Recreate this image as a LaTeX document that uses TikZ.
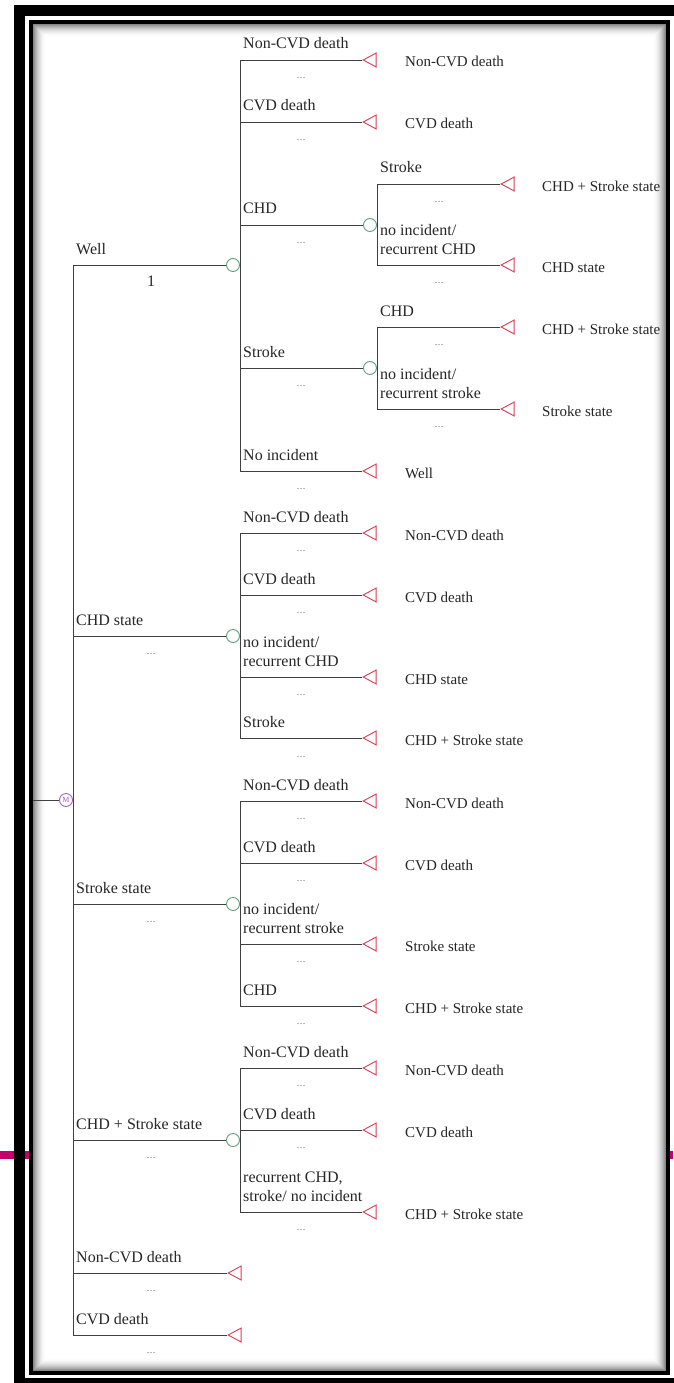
\documentclass[tikz,border=0pt]{standalone}
\usepackage{fontspec}
\setmainfont{Liberation Serif}
\usetikzlibrary{shapes.geometric}

\definecolor{chancegreen}{RGB}{95,160,125}
\definecolor{termred}{RGB}{220,60,80}
\definecolor{markovpurple}{RGB}{165,95,200}
\definecolor{edgemagenta}{RGB}{195,0,110}

\begin{document}
\begin{tikzpicture}[
    x=1pt, y=-1pt,
    branch/.style={draw=black!75, line width=0.9pt},
    chance/.style={circle, draw=chancegreen, fill=white, line width=0.9pt,
      inner sep=0pt, minimum size=13pt},
    term/.style={isosceles triangle, shape border rotate=180,
      isosceles triangle stretches, draw=termred, fill=white, line width=0.9pt,
      inner sep=0pt, minimum width=14pt, minimum height=13pt, anchor=apex},
    markov/.style={circle, draw=markovpurple, fill=white, line width=0.9pt,
      inner sep=0pt, minimum size=13pt, text=markovpurple,
      font=\fontsize{8}{8}\selectfont},
    lbl/.style={anchor=base west, inner sep=0pt, align=left,
      font=\fontsize{16}{19}\selectfont, text=black!85},
    outlbl/.style={anchor=base west, inner sep=0pt,
      font=\fontsize{15}{18}\selectfont, text=black!85},
    dotsl/.style={inner sep=0pt, font=\fontsize{9}{10}\selectfont, text=black!70}
  ]
  \useasboundingbox (0,0) rectangle (673,1383);

  % Window frame with the pink strip behind it
  \fill[edgemagenta] (0,1151) rectangle (673,1159);
  \draw[line width=11pt] (19.5,10.5) rectangle (690,1383.5);
  \fill[white] (31,22) rectangle (667.5,1372.5);
  \foreach \i in {1,...,13} {
    \pgfmathsetmacro{\shade}{55*(1-\i/14)^2}
    \draw[black!\shade, line width=1pt]
      (32.5+\i,23.5+\i) rectangle (666-\i,1371-\i);
  }
  \draw[line width=4pt] (31,22) rectangle (667.5,1372.5);

  % Markov node and its states
  \coordinate (rootin) at (33,800);
  \node[markov] (markov) at (66,800) {M};
  \coordinate (m-top) at (73,265);
  \coordinate (m-bot) at (73,1335);
  \draw[branch] (rootin) -- (markov.west);
  \draw[branch] (m-top) -- (m-bot);

  \node[chance] (well) at (233,265) {};
  \node[chance] (chd) at (233,636) {};
  \node[chance] (stroke) at (233,904) {};
  \node[chance] (both) at (233,1140) {};
  \node[term] (nd) at (227,1273) {};
  \node[term] (cd) at (227,1335) {};
  \coordinate (m-chd) at (73,636);
  \coordinate (m-stroke) at (73,904);
  \coordinate (m-both) at (73,1140);
  \coordinate (m-nd) at (73,1273);
  \draw[branch] (m-top) -- (well.west);
  \draw[branch] (m-chd) -- (chd.west);
  \draw[branch] (m-stroke) -- (stroke.west);
  \draw[branch] (m-both) -- (both.west);
  \draw[branch] (m-nd) -- (nd.apex);
  \draw[branch] (m-bot) -- (cd.apex);

  \node[lbl] (well-l) at (76,254) {Well};
  \node[lbl, anchor=center] (well-p) at (151,281) {1};
  \node[lbl] (chd-l) at (76,625) {CHD state};
  \node[dotsl] (chd-d) at (151,654.5) {\ldots};
  \node[lbl] (stroke-l) at (76,893) {Stroke state};
  \node[dotsl] (stroke-d) at (151,922.5) {\ldots};
  \node[lbl] (both-l) at (76,1129) {CHD + Stroke state};
  \node[dotsl] (both-d) at (151,1158.5) {\ldots};
  \node[lbl] (nd-l) at (76,1262) {Non-CVD death};
  \node[dotsl] (nd-d) at (151,1291.5) {\ldots};
  \node[lbl] (cd-l) at (76,1324) {CVD death};
  \node[dotsl] (cd-d) at (151,1353.5) {\ldots};

  % Well
  \coordinate (w-top) at (240,60);
  \coordinate (w-bot) at (240,471);
  \draw[branch] (w-top) -- (w-bot);
  \coordinate (w-cd-s) at (240,122);
  \coordinate (w-chd-s) at (240,225);
  \coordinate (w-str-s) at (240,368);
  \node[term] (w-nd) at (362,60) {};
  \node[term] (w-cd) at (362,122) {};
  \node[chance] (w-chd) at (370,225) {};
  \node[chance] (w-str) at (370,368) {};
  \node[term] (w-no) at (362,471) {};
  \draw[branch] (w-top) -- (w-nd.apex);
  \draw[branch] (w-cd-s) -- (w-cd.apex);
  \draw[branch] (w-chd-s) -- (w-chd.west);
  \draw[branch] (w-str-s) -- (w-str.west);
  \draw[branch] (w-bot) -- (w-no.apex);

  \node[lbl] (w-nd-l) at (243,49) {Non-CVD death};
  \node[dotsl] (w-nd-d) at (301,78.5) {\ldots};
  \node[outlbl] (w-nd-o) at (405,67) {Non-CVD death};
  \node[lbl] (w-cd-l) at (243,111) {CVD death};
  \node[dotsl] (w-cd-d) at (301,140.5) {\ldots};
  \node[outlbl] (w-cd-o) at (405,129) {CVD death};
  \node[lbl] (w-chd-l) at (243,214) {CHD};
  \node[dotsl] (w-chd-d) at (301,243.5) {\ldots};
  \node[lbl] (w-str-l) at (243,357) {Stroke};
  \node[dotsl] (w-str-d) at (301,386.5) {\ldots};
  \node[lbl] (w-no-l) at (243,460) {No incident};
  \node[dotsl] (w-no-d) at (301,489.5) {\ldots};
  \node[outlbl] (w-no-o) at (405,478) {Well};

  % Well -> CHD
  \coordinate (wc-top) at (377,184);
  \coordinate (wc-bot) at (377,265);
  \draw[branch] (wc-top) -- (wc-bot);
  \node[term] (wc-str) at (500,184) {};
  \node[term] (wc-no) at (500,265) {};
  \draw[branch] (wc-top) -- (wc-str.apex);
  \draw[branch] (wc-bot) -- (wc-no.apex);
  \node[lbl] (wc-str-l) at (380,173) {Stroke};
  \node[dotsl] (wc-str-d) at (439,202.5) {\ldots};
  \node[outlbl] (wc-str-o) at (542,191) {CHD + Stroke state};
  \node[lbl] (wc-no-l) at (380,254) {no incident/\\recurrent CHD};
  \node[dotsl] (wc-no-d) at (439,283.5) {\ldots};
  \node[outlbl] (wc-no-o) at (542,272) {CHD state};

  % Well -> Stroke
  \coordinate (ws-top) at (377,327);
  \coordinate (ws-bot) at (377,409);
  \draw[branch] (ws-top) -- (ws-bot);
  \node[term] (ws-chd) at (500,327) {};
  \node[term] (ws-no) at (500,409) {};
  \draw[branch] (ws-top) -- (ws-chd.apex);
  \draw[branch] (ws-bot) -- (ws-no.apex);
  \node[lbl] (ws-chd-l) at (380,316) {CHD};
  \node[dotsl] (ws-chd-d) at (439,345.5) {\ldots};
  \node[outlbl] (ws-chd-o) at (542,334) {CHD + Stroke state};
  \node[lbl] (ws-no-l) at (380,398) {no incident/\\recurrent stroke};
  \node[dotsl] (ws-no-d) at (439,427.5) {\ldots};
  \node[outlbl] (ws-no-o) at (542,416) {Stroke state};

  % CHD state
  \coordinate (c-top) at (240,533);
  \coordinate (c-cd-s) at (240,595);
  \coordinate (c-no-s) at (240,677);
  \coordinate (c-bot) at (240,738);
  \draw[branch] (c-top) -- (c-bot);
  \node[term] (c-nd) at (362,533) {};
  \node[term] (c-cd) at (362,595) {};
  \node[term] (c-no) at (362,677) {};
  \node[term] (c-str) at (362,738) {};
  \draw[branch] (c-top) -- (c-nd.apex);
  \draw[branch] (c-cd-s) -- (c-cd.apex);
  \draw[branch] (c-no-s) -- (c-no.apex);
  \draw[branch] (c-bot) -- (c-str.apex);
  \node[lbl] (c-nd-l) at (243,522) {Non-CVD death};
  \node[dotsl] (c-nd-d) at (301,551.5) {\ldots};
  \node[outlbl] (c-nd-o) at (405,540) {Non-CVD death};
  \node[lbl] (c-cd-l) at (243,584) {CVD death};
  \node[dotsl] (c-cd-d) at (301,613.5) {\ldots};
  \node[outlbl] (c-cd-o) at (405,602) {CVD death};
  \node[lbl] (c-no-l) at (243,666) {no incident/\\recurrent CHD};
  \node[dotsl] (c-no-d) at (301,695.5) {\ldots};
  \node[outlbl] (c-no-o) at (405,684) {CHD state};
  \node[lbl] (c-str-l) at (243,727) {Stroke};
  \node[dotsl] (c-str-d) at (301,757.5) {\ldots};
  \node[outlbl] (c-str-o) at (405,745) {CHD + Stroke state};

  % Stroke state
  \coordinate (s-top) at (240,801);
  \coordinate (s-cd-s) at (240,863);
  \coordinate (s-no-s) at (240,944);
  \coordinate (s-bot) at (240,1006);
  \draw[branch] (s-top) -- (s-bot);
  \node[term] (s-nd) at (362,801) {};
  \node[term] (s-cd) at (362,863) {};
  \node[term] (s-no) at (362,944) {};
  \node[term] (s-chd) at (362,1006) {};
  \draw[branch] (s-top) -- (s-nd.apex);
  \draw[branch] (s-cd-s) -- (s-cd.apex);
  \draw[branch] (s-no-s) -- (s-no.apex);
  \draw[branch] (s-bot) -- (s-chd.apex);
  \node[lbl] (s-nd-l) at (243,790) {Non-CVD death};
  \node[dotsl] (s-nd-d) at (301,819.5) {\ldots};
  \node[outlbl] (s-nd-o) at (405,808) {Non-CVD death};
  \node[lbl] (s-cd-l) at (243,852) {CVD death};
  \node[dotsl] (s-cd-d) at (301,881.5) {\ldots};
  \node[outlbl] (s-cd-o) at (405,870) {CVD death};
  \node[lbl] (s-no-l) at (243,933) {no incident/\\recurrent stroke};
  \node[dotsl] (s-no-d) at (301,962.5) {\ldots};
  \node[outlbl] (s-no-o) at (405,951) {Stroke state};
  \node[lbl] (s-chd-l) at (243,995) {CHD};
  \node[dotsl] (s-chd-d) at (301,1024.5) {\ldots};
  \node[outlbl] (s-chd-o) at (405,1013) {CHD + Stroke state};

  % CHD + Stroke state
  \coordinate (b-top) at (240,1068);
  \coordinate (b-cd-s) at (240,1130);
  \coordinate (b-bot) at (240,1212);
  \draw[branch] (b-top) -- (b-bot);
  \node[term] (b-nd) at (362,1068) {};
  \node[term] (b-cd) at (362,1130) {};
  \node[term] (b-rec) at (362,1212) {};
  \draw[branch] (b-top) -- (b-nd.apex);
  \draw[branch] (b-cd-s) -- (b-cd.apex);
  \draw[branch] (b-bot) -- (b-rec.apex);
  \node[lbl] (b-nd-l) at (243,1057) {Non-CVD death};
  \node[dotsl] (b-nd-d) at (301,1086.5) {\ldots};
  \node[outlbl] (b-nd-o) at (405,1075) {Non-CVD death};
  \node[lbl] (b-cd-l) at (243,1119) {CVD death};
  \node[dotsl] (b-cd-d) at (301,1148.5) {\ldots};
  \node[outlbl] (b-cd-o) at (405,1137) {CVD death};
  \node[lbl] (b-rec-l) at (243,1201) {recurrent CHD,\\stroke/ no incident};
  \node[dotsl] (b-rec-d) at (301,1230.5) {\ldots};
  \node[outlbl] (b-rec-o) at (405,1219) {CHD + Stroke state};
\end{tikzpicture}
\end{document}
